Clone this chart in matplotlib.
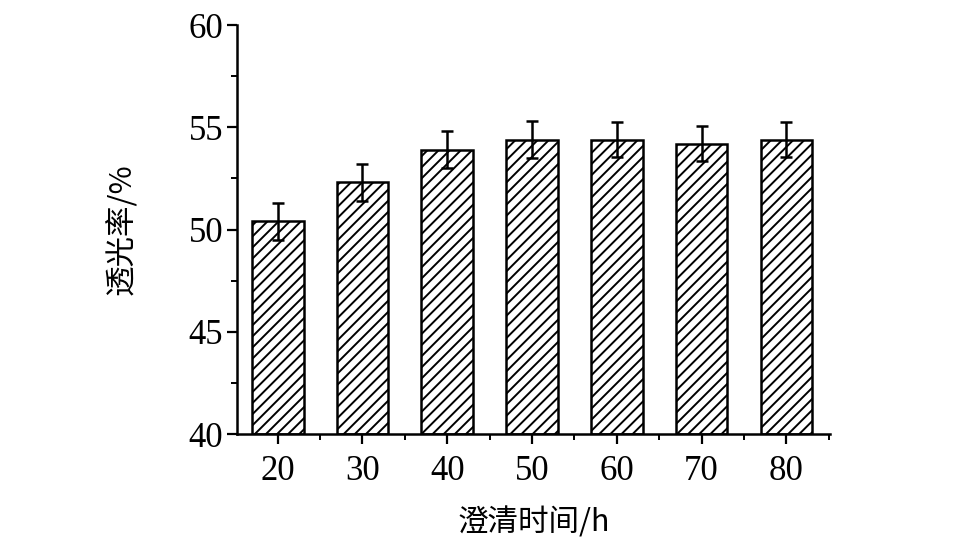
import matplotlib
matplotlib.use("Agg")
import matplotlib.pyplot as plt
from matplotlib.ticker import MultipleLocator

times = [20, 30, 40, 50, 60, 70, 80]
transmittance = [50.4, 52.3, 53.9, 54.4, 54.4, 54.2, 54.4]
errors = [0.9, 0.9, 0.9, 0.9, 0.85, 0.85, 0.85]
xtick_labels = ["20", "30", "40", "50", "60", "70", "80"]

plt.rcParams['hatch.linewidth'] = 1.4
fig = plt.figure(figsize=(9.58, 5.46), dpi=100)
ax = fig.add_axes([0.2474, 0.2051, 0.866 - 0.2474, 0.9542 - 0.2051])

ax.bar(times, [v - 40 for v in transmittance], bottom=40, width=6.1,
       color="white", edgecolor="black", linewidth=1.8, hatch="///",
       zorder=2)
ax.errorbar(times, transmittance, yerr=errors, fmt="none", ecolor="black",
            elinewidth=1.8, capsize=4.5, capthick=1.8, zorder=3)

ax.set_xlim(15.2, 85.1)
ax.set_ylim(40, 60)
ax.set_xticks(times)
ax.set_xticklabels(xtick_labels)
ax.xaxis.set_minor_locator(MultipleLocator(5))
ax.yaxis.set_major_locator(MultipleLocator(5))
ax.yaxis.set_minor_locator(MultipleLocator(2.5))

for s in ["top", "right"]:
    ax.spines[s].set_visible(False)
for s in ["left", "bottom"]:
    ax.spines[s].set_linewidth(1.8)

ax.tick_params(axis="both", which="major", direction="out", length=7, width=1.6,
               labelsize=25)
ax.tick_params(axis="y", which="major", pad=3)
ax.tick_params(axis="x", which="major", pad=8)
ax.tick_params(axis="both", which="minor", direction="out", length=4, width=1.4)
for lab in ax.get_xticklabels() + ax.get_yticklabels():
    lab.set_fontfamily("Liberation Serif")

ax.set_xlabel("澄清时间/h", fontsize=22, family=["Noto Sans CJK SC", "DejaVu Sans"],
              labelpad=14)
ax.set_ylabel("透光率/%", fontsize=22, family=["Noto Sans CJK SC", "DejaVu Sans"],
              labelpad=36)

fig.savefig("out.png", dpi=100)
